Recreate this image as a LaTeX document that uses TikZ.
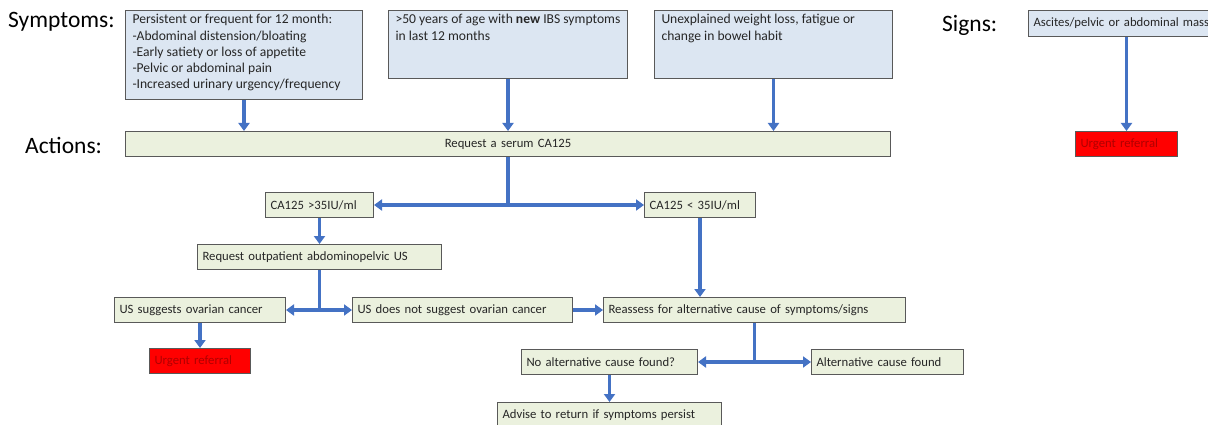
\documentclass[tikz,border=0pt]{standalone}
\usepackage{fontspec}
\setmainfont{Carlito}
\usetikzlibrary{positioning}
\usetikzlibrary{arrows.meta}

\definecolor{symfill}{HTML}{DCE6F2}
\definecolor{actfill}{HTML}{EBF1DE}
\definecolor{boxline}{HTML}{595959}
\definecolor{arrblue}{HTML}{4472C4}
\definecolor{refred}{HTML}{FF0000}
\definecolor{reftext}{HTML}{B00000}

\begin{document}
\begin{tikzpicture}[
  x=1pt, y=-1pt,
  sym/.style = {draw=boxline, fill=symfill, line width=1pt, inner xsep=7pt, inner ysep=4pt,
    anchor=north west, font=\fontsize{13.6}{16.2}\selectfont, text=black!85},
  act/.style = {draw=boxline, fill=actfill, line width=1pt, inner sep=5pt, anchor=north west,
    minimum height=25, text width=#1, align=left, font=\fontsize{12.7}{15}\selectfont, text=black!85},
  ref/.style = {act=#1, fill=refred, text=reftext},
  head/.style = {anchor=west, inner sep=0pt, font=\fontsize{23.5}{27}\selectfont},
  line/.style = {arrblue, line width=3.4pt},
  arr/.style = {line, ->},
  >={Triangle[width=11pt,length=8pt]},
]

  \useasboundingbox (0,0) rectangle (1208,425);
  \clip (0,0) rectangle (1208,425);

  % row labels
  \node[head] (hsym) at (8,22) {Symptoms:};
  \node[head] (hact) at (25,145) {Actions:};
  \node[head] (hsig) at (942,25) {Signs:};

  % symptoms and signs
  \node[sym] (sym1) at (125,10) {\parbox[t][81pt][t]{223pt}{\raggedright
    Persistent or frequent for 12 month:\\-Abdominal distension/bloating\\
    -Early satiety or loss of appetite\\-Pelvic or abdominal pain\\
    -Increased urinary urgency/frequency}};
  \node[sym] (sym2) at (388,10) {\parbox[t][60pt][t]{225pt}{\raggedright
    >50 years of age with \textbf{new} IBS symptoms\\in last 12 months}};
  \node[sym] (sym3) at (654,10) {\parbox[t][60pt][t]{224pt}{\raggedright
    Unexplained weight loss, fatigue or\\change in bowel habit}};
  \node[act=230, fill=symfill, minimum height=26] (asc) at (1028,10) {Ascites/pelvic or abdominal mass};

  % actions
  \node[act=755, align=center] (req) at (125,131) {Request a serum CA125};
  \node[ref=92] (urg1) at (1075,131) {Urgent referral};
  \node[act=98] (hi) at (265,192) {CA125 >35IU/ml};
  \node[act=101] (lo) at (644,192) {CA125 < 35IU/ml};
  \node[act=234] (us) at (197,244) {Request outpatient abdominopelvic US};
  \node[act=161] (usyes) at (114,297) {US suggests ovarian cancer};
  \node[act=210] (usno) at (352,297) {US does not suggest ovarian cancer};
  \node[act=292] (re) at (603,297) {Reassess for alternative cause of symptoms/signs};
  \node[ref=91] (urg2) at (149,348) {Urgent referral};
  \node[act=166] (noalt) at (521,349) {No alternative cause found?};
  \node[act=142] (alt) at (811,349) {Alternative cause found};
  \node[act=214] (adv) at (497,402) {Advise to return if symptoms persist};

  % connectors
  \draw[arr] (sym1.south) -- (sym1.south |- req.north);
  \draw[arr] (sym2.south) -- (sym2.south |- req.north);
  \draw[arr] (sym3.south) -- (sym3.south |- req.north);
  \draw[arr] (urg1.north |- asc.south) -- (urg1.north);

  \coordinate (split1) at (req.south |- hi.east);
  \draw[line] (req.south) -- (split1);
  \draw[arr] (split1) -- (hi.east);
  \draw[arr] (split1) -- (lo.west);

  \draw[arr] (hi.south) -- (us.north);
  \coordinate (split2) at (us.south |- usyes.east);
  \draw[line] (us.south) -- (split2);
  \draw[arr] (split2) -- (usyes.east);
  \draw[arr] (split2) -- (usno.west);
  \draw[arr] (usyes.south) -- (urg2.north);
  \draw[arr] (usno.east) -- (re.west);

  \draw[arr] (lo.south) -- (lo.south |- re.north);
  \coordinate (split3) at (re.south |- noalt.east);
  \draw[line] (re.south) -- (split3);
  \draw[arr] (split3) -- (noalt.east);
  \draw[arr] (split3) -- (alt.west);
  \draw[arr] (noalt.south) -- (adv.north);

\end{tikzpicture}
\end{document}
